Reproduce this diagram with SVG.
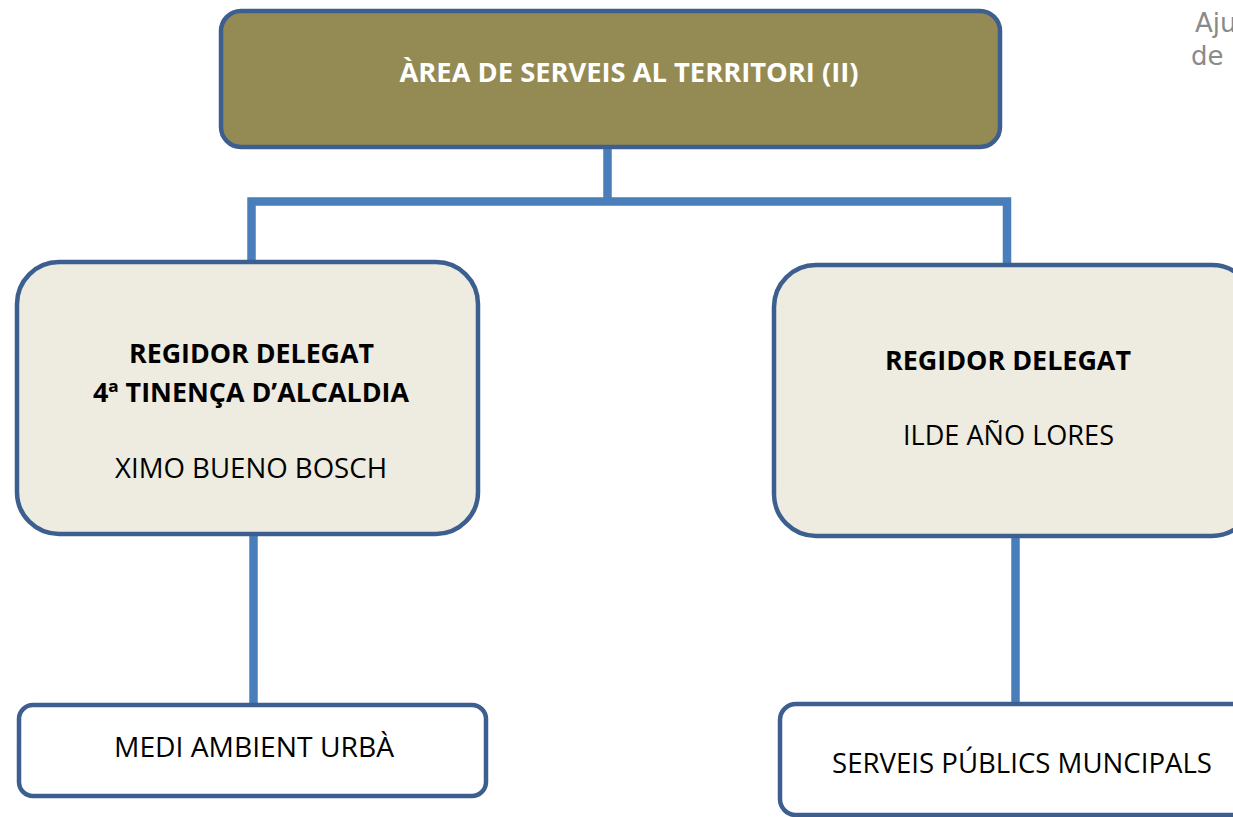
<svg xmlns="http://www.w3.org/2000/svg" width="1233" height="817" viewBox="0 0 1233 817">
<style>
.box{stroke:#3c5f8f;stroke-width:4.5}
.conn{fill:none;stroke:#4a7ebb;stroke-width:8.5}
text{font-family:"Open Sans","Liberation Sans",sans-serif;font-size:26.5px;text-anchor:middle;fill:#000}
.b{font-weight:bold}
.w{fill:#fff}
.g{font-family:"DejaVu Sans","Liberation Sans",sans-serif;fill:#8a8a8a;text-anchor:start;font-size:26px}
</style>
<rect width="1233" height="817" fill="#fff"/>
<g id="connectors">
<path class="conn" d="M607.5 146 V201.5 M251.5 263 V201.5 H1007 V264"/>
<path class="conn" d="M253.5 535 V705"/>
<path class="conn" d="M1015.5 538 V704"/>
</g>
<g id="title">
<rect class="box" x="221" y="11" width="779" height="136" rx="20" fill="#948a54"/>
<text class="b w" x="629" y="82" textLength="459" lengthAdjust="spacingAndGlyphs">ÀREA DE SERVEIS AL TERRITORI (II)</text>
</g>
<g id="regidor-left">
<rect class="box" x="17" y="262" width="461" height="272" rx="42" fill="#eeebe0"/>
<text class="b" x="251.5" y="363" textLength="245" lengthAdjust="spacingAndGlyphs">REGIDOR DELEGAT</text>
<text class="b" x="251" y="402" textLength="316" lengthAdjust="spacingAndGlyphs">4ª TINENÇA D’ALCALDIA</text>
<text x="251" y="478" textLength="272" lengthAdjust="spacingAndGlyphs">XIMO BUENO BOSCH</text>
</g>
<g id="regidor-right">
<rect class="box" x="774" y="265" width="480" height="271" rx="42" fill="#eeebe0"/>
<text class="b" x="1008" y="370" textLength="246" lengthAdjust="spacingAndGlyphs">REGIDOR DELEGAT</text>
<text x="1008.5" y="445" textLength="211" lengthAdjust="spacingAndGlyphs">ILDE AÑO LORES</text>
</g>
<g id="medi-ambient">
<rect class="box" x="19" y="705" width="467" height="91" rx="14" fill="#fff"/>
<text x="254" y="757" textLength="280" lengthAdjust="spacingAndGlyphs">MEDI AMBIENT URBÀ</text>
</g>
<g id="serveis-publics">
<rect class="box" x="780" y="704" width="480" height="111" rx="16" fill="#fff"/>
<text x="1022" y="773" textLength="380" lengthAdjust="spacingAndGlyphs">SERVEIS PÚBLICS MUNCIPALS</text>
</g>
<text class="g" x="1195" y="32">Aju</text>
<text class="g" x="1191" y="65">de</text>
</svg>
